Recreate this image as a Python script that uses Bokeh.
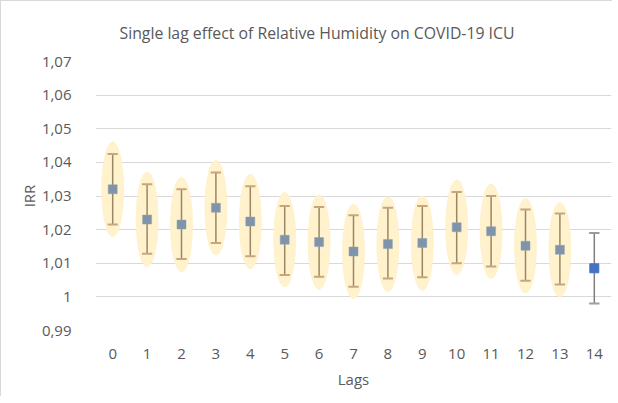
from bokeh.plotting import figure
from bokeh.models import FixedTicker, CustomJSTickFormatter, Range1d, ColumnDataSource, Title
from bokeh.embed import file_html
from bokeh.resources import INLINE

lags = list(range(15))
irr = [1.032, 1.023, 1.0215, 1.0265, 1.0224, 1.017, 1.0163, 1.0135, 1.0157, 1.016,
       1.0207, 1.0195, 1.0152, 1.014, 1.0085]
upper = [1.0425, 1.0335, 1.032, 1.037, 1.0329, 1.027, 1.0267, 1.0243, 1.0265, 1.027,
         1.0312, 1.030, 1.026, 1.0248, 1.019]
lower = [1.0215, 1.0128, 1.0113, 1.016, 1.0121, 1.0065, 1.006, 1.003, 1.0055, 1.0058,
         1.0100, 1.009, 1.0048, 1.0037, 0.998]
y_ticks = [0.99, 1.0, 1.01, 1.02, 1.03, 1.04, 1.05, 1.06, 1.07]
y_labels = ["0,99", "1", "1,01", "1,02", "1,03", "1,04", "1,05", "1,06", "1,07"]
n_highlighted = 14  # lags 0..13 are circled

FONT = "Open Sans"
TXT = "#595959"

p = figure(width=612, height=396, output_backend="svg", toolbar_location=None,
           x_range=Range1d(-0.5, 14.5), y_range=Range1d(0.99, 1.07),
           min_border_left=94, min_border_right=2, min_border_bottom=67, min_border_top=55)
p.outline_line_color = None
p.border_fill_color = "white"
p.background_fill_color = "white"
p.styles = {"border-left": "1px solid #D9D9D9", "border-top": "1px solid #D9D9D9"}

p.title = Title(text="Single lag effect of Relative Humidity on COVID-19 ICU", align="left",
                text_font=FONT, text_font_size="15.8px", text_color=TXT, text_font_style="normal",
                offset=24, standoff=36)


def cols(sl):
    xs = lags[sl]
    return dict(x=xs, y=irr[sl], up=upper[sl], lo=lower[sl],
                cl=[v - 0.15 for v in xs], cr=[v + 0.15 for v in xs])


src = ColumnDataSource(cols(slice(0, n_highlighted)))
src2 = ColumnDataSource(cols(slice(n_highlighted, None)))

p.ellipse(x="x", y="y", width=0.64, height=0.0282, source=src,
          fill_color="#FFF2CC", line_color="#FFEDBF", line_width=0.5)

p.segment(x0="x", y0="lo", x1="x", y1="up", source=src, line_color="#9C8763", line_width=1.5)
p.segment(x0="cl", y0="up", x1="cr", y1="up", source=src, line_color="#C4A77C", line_width=2)
p.segment(x0="cl", y0="lo", x1="cr", y1="lo", source=src, line_color="#C4A77C", line_width=2)
p.scatter(x="x", y="y", source=src, marker="square", size=9,
          fill_color="#7F94AA", line_color="#8FA2B6", line_width=0.5)

p.segment(x0="x", y0="lo", x1="x", y1="up", source=src2, line_color="#7F7F7F", line_width=1.5)
p.segment(x0="cl", y0="up", x1="cr", y1="up", source=src2, line_color="#9A9A9A", line_width=2)
p.segment(x0="cl", y0="lo", x1="cr", y1="lo", source=src2, line_color="#A89A94", line_width=2)
p.scatter(x="x", y="y", source=src2, marker="square", size=9,
          fill_color="#4472C4", line_color="#4472C4")

p.xaxis.ticker = FixedTicker(ticks=lags)
p.yaxis.ticker = FixedTicker(ticks=y_ticks)
p.yaxis.formatter = CustomJSTickFormatter(args=dict(t=y_ticks, l=y_labels), code="""
for (let i = 0; i < t.length; i++) { if (Math.abs(t[i] - tick) < 1e-6) return l[i]; }
return '';
""")

for ax in (p.xaxis[0], p.yaxis[0]):
    ax.axis_line_color = None
    ax.major_tick_line_color = None
    ax.minor_tick_line_color = None
    ax.major_label_text_font = FONT
    ax.major_label_text_font_size = "15px"
    ax.major_label_text_color = TXT
    ax.axis_label_text_font = FONT
    ax.axis_label_text_font_size = "15px"
    ax.axis_label_text_color = TXT
    ax.axis_label_text_font_style = "normal"

p.xaxis.axis_label = "Lags"
p.yaxis.axis_label = "IRR"
p.xaxis.major_label_standoff = 12
p.xaxis.axis_label_standoff = 7
p.yaxis.major_label_standoff = 18
p.yaxis.axis_label_standoff = 0

p.xgrid.grid_line_color = None
p.ygrid.grid_line_color = "#D9D9D9"
p.ygrid.grid_line_width = 1

open("out.html", "w").write(file_html(p, INLINE))
